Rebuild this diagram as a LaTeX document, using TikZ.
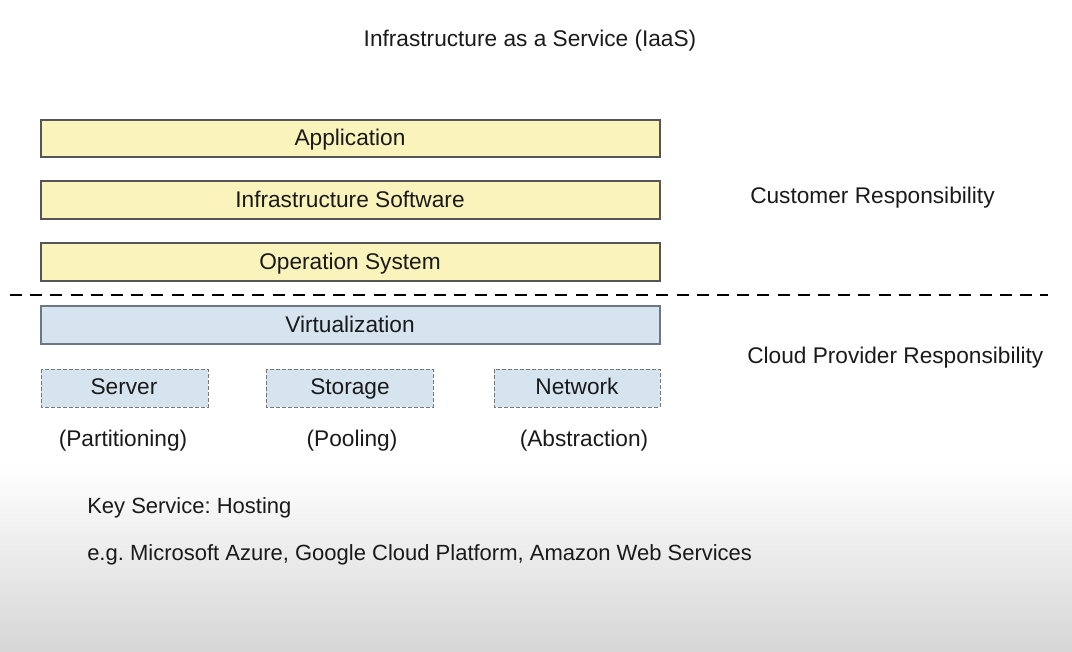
\documentclass[tikz,border=0pt]{standalone}
\usepackage{fontspec}
\setmainfont{Liberation Sans}
\frenchspacing
\begin{document}
\begin{tikzpicture}[x=0.75pt,y=0.75pt,yscale=-1,xscale=1,
  lbl/.style={color={rgb, 255:red, 26; green, 26; blue, 26 }, font=\fontsize{17}{20}\selectfont, inner sep=0pt, text height=12pt, text depth=3.5pt},
  side/.style={lbl, anchor=west},
  note/.style={lbl, anchor=west, font=\fontsize{16.5}{20}\selectfont},
  layer/.style={draw={rgb, 255:red, 85; green, 85; blue, 85 }, line width=0.8pt, fill={rgb, 255:red, 250; green, 243; blue, 188 }},
  virt/.style={draw={rgb, 255:red, 110; green, 120; blue, 130 }, line width=0.8pt, fill={rgb, 255:red, 214; green, 228; blue, 240 }},
  unit/.style={virt, draw={rgb, 255:red, 120; green, 120; blue, 120 }, line width=0.6pt, dash pattern=on 3pt off 1.5pt}]
%uncomment if require: \path (0,652); %set diagram left start at 0, and has height of 652
\path (0,0) rectangle (1072,652);
%Shading: background
\shade [top color=white, bottom color={rgb, 255:red, 214; green, 214; blue, 214 }] (0,465) rectangle (1072,652);

% Text Node
\node (title) at (530,41) [lbl] {Infrastructure as a Service (IaaS)};

%Shape: Rectangle [customer layers]
\draw [layer] (41,120) rectangle (660,157);
\draw [layer] (41,181) rectangle (660,219);
\draw [layer] (41,243) rectangle (660,281);
% Text Node
\node (app) at (350,140) [lbl] {Application};
\node (infra) at (350,202) [lbl] {Infrastructure Software};
\node (os) at (350,264) [lbl] {Operation System};

%Straight Lines [responsibility split]
\draw [line width=1.6pt, dash pattern=on 9pt off 6.15pt] (10,295) -- (1048,295);

%Shape: Rectangle [provider layers]
\draw [virt] (41,306) rectangle (660,344);
\draw [unit] (41,369) rectangle (208,407);
\draw [unit] (266,369) rectangle (433,407);
\draw [unit] (494,369) rectangle (660,407);
% Text Node
\node (virt) at (350,327) [lbl] {Virtualization};
\node (server) at (124,389) [lbl] {Server};
\node (storage) at (350,389) [lbl] {Storage};
\node (network) at (577,389) [lbl] {Network};
\node (part) at (123,441) [lbl] {(Partitioning)};
\node (pool) at (352,441) [lbl] {(Pooling)};
\node (abs) at (584,441) [lbl] {(Abstraction)};

% Text Node
\node (cust) at (750,198) [side] {Customer Responsibility};
\node (prov) at (747,358) [side] {Cloud Provider Responsibility};

% Text Node
\node (key) at (87,508) [note] {Key Service: Hosting};
\node (eg) at (87,555) [note] {e.g. Microsoft Azure, Google Cloud Platform, Amazon Web Services};

\end{tikzpicture}
\end{document}
